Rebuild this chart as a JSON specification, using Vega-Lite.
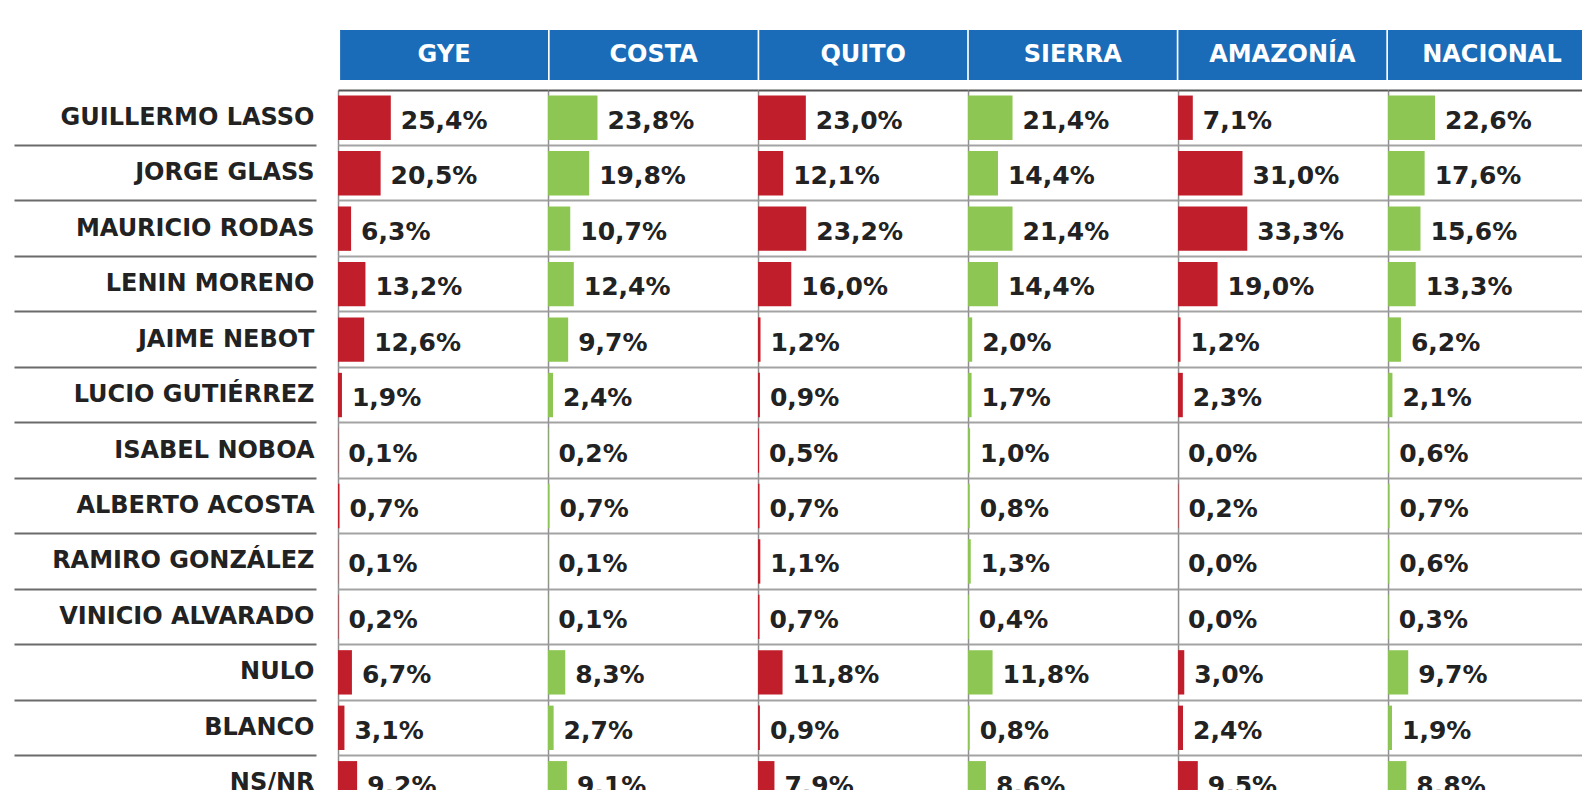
{
  "$schema": "https://vega.github.io/schema/vega-lite/v6.json",
  "background": "white",
  "padding": {"left": 13, "top": 30, "right": 0, "bottom": 0},
  "config": {"view": {"stroke": null}, "facet": {"spacing": 0.01}},
  "datasets": {
    "regions": [
      {"region": "GYE"}, {"region": "COSTA"}, {"region": "QUITO"},
      {"region": "SIERRA"}, {"region": "AMAZONÍA"}, {"region": "NACIONAL"}
    ],
    "results": [
      {"candidate": "GUILLERMO LASSO", "region": "GYE", "pct": 25.4, "label": "25,4%"},
      {"candidate": "GUILLERMO LASSO", "region": "COSTA", "pct": 23.8, "label": "23,8%"},
      {"candidate": "GUILLERMO LASSO", "region": "QUITO", "pct": 23.0, "label": "23,0%"},
      {"candidate": "GUILLERMO LASSO", "region": "SIERRA", "pct": 21.4, "label": "21,4%"},
      {"candidate": "GUILLERMO LASSO", "region": "AMAZONÍA", "pct": 7.1, "label": "7,1%"},
      {"candidate": "GUILLERMO LASSO", "region": "NACIONAL", "pct": 22.6, "label": "22,6%"},
      {"candidate": "JORGE GLASS", "region": "GYE", "pct": 20.5, "label": "20,5%"},
      {"candidate": "JORGE GLASS", "region": "COSTA", "pct": 19.8, "label": "19,8%"},
      {"candidate": "JORGE GLASS", "region": "QUITO", "pct": 12.1, "label": "12,1%"},
      {"candidate": "JORGE GLASS", "region": "SIERRA", "pct": 14.4, "label": "14,4%"},
      {"candidate": "JORGE GLASS", "region": "AMAZONÍA", "pct": 31.0, "label": "31,0%"},
      {"candidate": "JORGE GLASS", "region": "NACIONAL", "pct": 17.6, "label": "17,6%"},
      {"candidate": "MAURICIO RODAS", "region": "GYE", "pct": 6.3, "label": "6,3%"},
      {"candidate": "MAURICIO RODAS", "region": "COSTA", "pct": 10.7, "label": "10,7%"},
      {"candidate": "MAURICIO RODAS", "region": "QUITO", "pct": 23.2, "label": "23,2%"},
      {"candidate": "MAURICIO RODAS", "region": "SIERRA", "pct": 21.4, "label": "21,4%"},
      {"candidate": "MAURICIO RODAS", "region": "AMAZONÍA", "pct": 33.3, "label": "33,3%"},
      {"candidate": "MAURICIO RODAS", "region": "NACIONAL", "pct": 15.6, "label": "15,6%"},
      {"candidate": "LENIN MORENO", "region": "GYE", "pct": 13.2, "label": "13,2%"},
      {"candidate": "LENIN MORENO", "region": "COSTA", "pct": 12.4, "label": "12,4%"},
      {"candidate": "LENIN MORENO", "region": "QUITO", "pct": 16.0, "label": "16,0%"},
      {"candidate": "LENIN MORENO", "region": "SIERRA", "pct": 14.4, "label": "14,4%"},
      {"candidate": "LENIN MORENO", "region": "AMAZONÍA", "pct": 19.0, "label": "19,0%"},
      {"candidate": "LENIN MORENO", "region": "NACIONAL", "pct": 13.3, "label": "13,3%"},
      {"candidate": "JAIME NEBOT", "region": "GYE", "pct": 12.6, "label": "12,6%"},
      {"candidate": "JAIME NEBOT", "region": "COSTA", "pct": 9.7, "label": "9,7%"},
      {"candidate": "JAIME NEBOT", "region": "QUITO", "pct": 1.2, "label": "1,2%"},
      {"candidate": "JAIME NEBOT", "region": "SIERRA", "pct": 2.0, "label": "2,0%"},
      {"candidate": "JAIME NEBOT", "region": "AMAZONÍA", "pct": 1.2, "label": "1,2%"},
      {"candidate": "JAIME NEBOT", "region": "NACIONAL", "pct": 6.2, "label": "6,2%"},
      {"candidate": "LUCIO GUTIÉRREZ", "region": "GYE", "pct": 1.9, "label": "1,9%"},
      {"candidate": "LUCIO GUTIÉRREZ", "region": "COSTA", "pct": 2.4, "label": "2,4%"},
      {"candidate": "LUCIO GUTIÉRREZ", "region": "QUITO", "pct": 0.9, "label": "0,9%"},
      {"candidate": "LUCIO GUTIÉRREZ", "region": "SIERRA", "pct": 1.7, "label": "1,7%"},
      {"candidate": "LUCIO GUTIÉRREZ", "region": "AMAZONÍA", "pct": 2.3, "label": "2,3%"},
      {"candidate": "LUCIO GUTIÉRREZ", "region": "NACIONAL", "pct": 2.1, "label": "2,1%"},
      {"candidate": "ISABEL NOBOA", "region": "GYE", "pct": 0.1, "label": "0,1%"},
      {"candidate": "ISABEL NOBOA", "region": "COSTA", "pct": 0.2, "label": "0,2%"},
      {"candidate": "ISABEL NOBOA", "region": "QUITO", "pct": 0.5, "label": "0,5%"},
      {"candidate": "ISABEL NOBOA", "region": "SIERRA", "pct": 1.0, "label": "1,0%"},
      {"candidate": "ISABEL NOBOA", "region": "AMAZONÍA", "pct": 0.0, "label": "0,0%"},
      {"candidate": "ISABEL NOBOA", "region": "NACIONAL", "pct": 0.6, "label": "0,6%"},
      {"candidate": "ALBERTO ACOSTA", "region": "GYE", "pct": 0.7, "label": "0,7%"},
      {"candidate": "ALBERTO ACOSTA", "region": "COSTA", "pct": 0.7, "label": "0,7%"},
      {"candidate": "ALBERTO ACOSTA", "region": "QUITO", "pct": 0.7, "label": "0,7%"},
      {"candidate": "ALBERTO ACOSTA", "region": "SIERRA", "pct": 0.8, "label": "0,8%"},
      {"candidate": "ALBERTO ACOSTA", "region": "AMAZONÍA", "pct": 0.2, "label": "0,2%"},
      {"candidate": "ALBERTO ACOSTA", "region": "NACIONAL", "pct": 0.7, "label": "0,7%"},
      {"candidate": "RAMIRO GONZÁLEZ", "region": "GYE", "pct": 0.1, "label": "0,1%"},
      {"candidate": "RAMIRO GONZÁLEZ", "region": "COSTA", "pct": 0.1, "label": "0,1%"},
      {"candidate": "RAMIRO GONZÁLEZ", "region": "QUITO", "pct": 1.1, "label": "1,1%"},
      {"candidate": "RAMIRO GONZÁLEZ", "region": "SIERRA", "pct": 1.3, "label": "1,3%"},
      {"candidate": "RAMIRO GONZÁLEZ", "region": "AMAZONÍA", "pct": 0.0, "label": "0,0%"},
      {"candidate": "RAMIRO GONZÁLEZ", "region": "NACIONAL", "pct": 0.6, "label": "0,6%"},
      {"candidate": "VINICIO ALVARADO", "region": "GYE", "pct": 0.2, "label": "0,2%"},
      {"candidate": "VINICIO ALVARADO", "region": "COSTA", "pct": 0.1, "label": "0,1%"},
      {"candidate": "VINICIO ALVARADO", "region": "QUITO", "pct": 0.7, "label": "0,7%"},
      {"candidate": "VINICIO ALVARADO", "region": "SIERRA", "pct": 0.4, "label": "0,4%"},
      {"candidate": "VINICIO ALVARADO", "region": "AMAZONÍA", "pct": 0.0, "label": "0,0%"},
      {"candidate": "VINICIO ALVARADO", "region": "NACIONAL", "pct": 0.3, "label": "0,3%"},
      {"candidate": "NULO", "region": "GYE", "pct": 6.7, "label": "6,7%"},
      {"candidate": "NULO", "region": "COSTA", "pct": 8.3, "label": "8,3%"},
      {"candidate": "NULO", "region": "QUITO", "pct": 11.8, "label": "11,8%"},
      {"candidate": "NULO", "region": "SIERRA", "pct": 11.8, "label": "11,8%"},
      {"candidate": "NULO", "region": "AMAZONÍA", "pct": 3.0, "label": "3,0%"},
      {"candidate": "NULO", "region": "NACIONAL", "pct": 9.7, "label": "9,7%"},
      {"candidate": "BLANCO", "region": "GYE", "pct": 3.1, "label": "3,1%"},
      {"candidate": "BLANCO", "region": "COSTA", "pct": 2.7, "label": "2,7%"},
      {"candidate": "BLANCO", "region": "QUITO", "pct": 0.9, "label": "0,9%"},
      {"candidate": "BLANCO", "region": "SIERRA", "pct": 0.8, "label": "0,8%"},
      {"candidate": "BLANCO", "region": "AMAZONÍA", "pct": 2.4, "label": "2,4%"},
      {"candidate": "BLANCO", "region": "NACIONAL", "pct": 1.9, "label": "1,9%"},
      {"candidate": "NS/NR", "region": "GYE", "pct": 9.2, "label": "9,2%"},
      {"candidate": "NS/NR", "region": "COSTA", "pct": 9.1, "label": "9,1%"},
      {"candidate": "NS/NR", "region": "QUITO", "pct": 7.9, "label": "7,9%"},
      {"candidate": "NS/NR", "region": "SIERRA", "pct": 8.6, "label": "8,6%"},
      {"candidate": "NS/NR", "region": "AMAZONÍA", "pct": 9.5, "label": "9,5%"},
      {"candidate": "NS/NR", "region": "NACIONAL", "pct": 8.8, "label": "8,8%"}
    ]
  },
  "spacing": 9,
  "vconcat": [
    {
      "width": 1260, "height": 50,
      "data": {"name": "regions"},
      "encoding": {
        "x": {
          "field": "region", "type": "nominal",
          "sort": ["GYE", "COSTA", "QUITO", "SIERRA", "AMAZONÍA", "NACIONAL"],
          "axis": null,
          "scale": {"paddingInner": 0.008, "paddingOuter": 0.01}
        }
      },
      "layer": [
        {"mark": {"type": "bar", "color": "#1B6CB8"}},
        {
          "mark": {"type": "text", "color": "white", "font": "DejaVu Sans", "fontWeight": "bold", "fontSize": 24, "baseline": "middle"},
          "encoding": {"text": {"field": "region"}}
        }
      ]
    },
    {
      "data": {"name": "results"},
      "bounds": "flush",
      "spacing": {"row": 0.01, "column": 0.01},
      "facet": {
        "column": {
          "field": "region", "type": "nominal",
          "sort": ["GYE", "COSTA", "QUITO", "SIERRA", "AMAZONÍA", "NACIONAL"],
          "header": {"labels": false, "title": null}
        }
      },
      "spec": {
        "width": 210,
        "height": 721,
        "layer": [
          {
            "mark": {"type": "bar", "height": {"band": 0.8}},
            "encoding": {
              "x": {
                "field": "pct", "type": "quantitative",
                "scale": {"domain": [0, 101], "nice": false},
                "axis": {"values": [0], "labels": false, "ticks": false, "domain": false, "title": null, "grid": true, "gridColor": "#8f8f8f", "gridWidth": 1.5}
              },
              "y": {
                "field": "candidate", "type": "nominal",
                "sort": ["GUILLERMO LASSO", "JORGE GLASS", "MAURICIO RODAS", "LENIN MORENO", "JAIME NEBOT", "LUCIO GUTIÉRREZ", "ISABEL NOBOA", "ALBERTO ACOSTA", "RAMIRO GONZÁLEZ", "VINICIO ALVARADO", "NULO", "BLANCO", "NS/NR"],
                "scale": {"paddingInner": 0, "paddingOuter": 0},
                "axis": {
                  "title": null, "domain": false, "offset": 22,
                  "tickSize": 302, "tickWidth": 2,
                  "tickColor": {"condition": {"test": "datum.value === 'GUILLERMO LASSO'", "value": "#ffffff"}, "value": "#6b6b6b"},
                  "bandPosition": 0,
                  "labelPadding": -300, "labelFont": "DejaVu Sans", "labelFontWeight": "bold",
                  "labelFontSize": 24, "labelColor": "#222222", "labelLimit": 400,
                  "grid": true, "gridWidth": 2,
                  "gridColor": {"condition": {"test": "datum.value === 'GUILLERMO LASSO'", "value": "#555555"}, "value": "#a3a3a3"}
                }
              },
              "color": {
                "field": "region", "type": "nominal", "legend": null,
                "scale": {
                  "domain": ["GYE", "COSTA", "QUITO", "SIERRA", "AMAZONÍA", "NACIONAL"],
                  "range": ["#C01E2A", "#8DC653", "#C01E2A", "#8DC653", "#C01E2A", "#8DC653"]
                }
              }
            }
          },
          {
            "mark": {"type": "text", "align": "left", "baseline": "middle", "dx": 10, "dy": 3, "font": "DejaVu Sans", "fontWeight": "bold", "fontSize": 25, "color": "#222222"},
            "encoding": {
              "x": {"field": "pct", "type": "quantitative"},
              "y": {"field": "candidate", "type": "nominal", "sort": ["GUILLERMO LASSO", "JORGE GLASS", "MAURICIO RODAS", "LENIN MORENO", "JAIME NEBOT", "LUCIO GUTIÉRREZ", "ISABEL NOBOA", "ALBERTO ACOSTA", "RAMIRO GONZÁLEZ", "VINICIO ALVARADO", "NULO", "BLANCO", "NS/NR"]},
              "text": {"field": "label"}
            }
          }
        ]
      }
    }
  ]
}
